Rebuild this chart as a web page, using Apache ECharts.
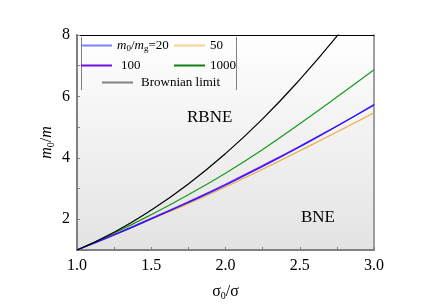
<!DOCTYPE html>
<html><head><meta charset="utf-8">
<script src="https://cdn.jsdelivr.net/npm/echarts@6/dist/echarts.min.js"></script>
<style>html,body{margin:0;padding:0;background:#fff}#c{width:436px;height:306px}</style>
</head><body><div id="c"></div>
<script>
const sigma = [1.0, 1.25, 1.5, 1.75, 2.0, 2.25, 2.5, 2.75, 3.0];
const mg20   = [1.0, 1.49, 2.01, 2.55, 3.11, 3.72, 4.36, 5.03, 5.74];
const mg50   = [1.0, 1.48, 2.00, 2.51, 3.05, 3.63, 4.23, 4.84, 5.47];
const mg100  = [1.0, 1.50, 2.03, 2.57, 3.14, 3.75, 4.38, 5.04, 5.71];
const mg1000 = [1.0, 1.55, 2.15, 2.80, 3.50, 4.27, 5.11, 5.98, 6.87];
const brown  = [1.0, 1.58, 2.30, 3.15, 4.14, 5.27, 6.55, 7.96, 9.50];
const seriesNames = ['m0/mg=20', '50', '100', '1000', 'Brownian limit'];
const xTicks = [1.0, 1.5, 2.0, 2.5, 3.0];
const yTicks = [2, 4, 6, 8];

const FONT = 'Liberation Serif';
const pairs = a => sigma.map((s, i) => [s, a[i]]);
const curveColors = ['#1a1aff', '#f0a840', '#8a10f0', '#1a9a1a', '#000000'];
const legendColors = ['#8080ff', '#f5d595', '#7010e0', '#108010', '#808080'];
const zs = [4, 2, 3, 2, 5];
const data = [mg20, mg50, mg100, mg1000, brown];
const sub = {fontSize: 9, fontFamily: FONT, color: '#000', padding: [7, 0, 0, 0]};
const it = {fontSize: 13, fontFamily: FONT, fontStyle: 'italic', color: '#000'};
const nt = {fontSize: 13, fontFamily: FONT, color: '#000'};

const chart = echarts.init(document.getElementById('c'), null, {renderer: 'canvas'});
function leg(name, left, top, color, pad) {
  return {
    show: true, left: left, top: top, padding: 0, itemGap: 0,
    icon: 'rect', itemWidth: 31, itemHeight: 2,
    data: [{name: name, itemStyle: {color: color}}],
    formatter: n => n === 'm0/mg=20' ? '{i|m}{s|0}{n|/}{i|m}{s|g}{n|=20}' : n,
    textStyle: {fontSize: 13, fontFamily: FONT, color: '#000', padding: pad || 0,
      rich: {i: it, s: sub, n: nt}},
    selectedMode: false
  };
}
const option = {
  animation: false,
  backgroundColor: '#ffffff',
  textStyle: {fontFamily: FONT},
  grid: {left: 77, top: 35, width: 297, height: 219, show: true, borderWidth: 0,
    backgroundColor: new echarts.graphic.LinearGradient(0, 0, 0, 1, [
      {offset: 0, color: '#ffffff'}, {offset: 1, color: '#e3e3e3'}])},
  legend: [
    leg(seriesNames[0], 81, 39, legendColors[0]),
    leg(seriesNames[1], 174, 39, legendColors[1]),
    leg(seriesNames[2], 81, 59, legendColors[2], [0, 0, 0, 4]),
    leg(seriesNames[3], 174, 59, legendColors[3]),
    leg(seriesNames[4], 102, 76, legendColors[4], [0, 0, 0, 3])
  ],
  xAxis: [{
    type: 'value', min: 1, max: 3, interval: 0.25, position: 'bottom',
    name: '{a|σ}{s|0}{a|/σ}', nameLocation: 'middle', nameGap: 32, nameMoveOverlap: false,
    nameTextStyle: {rich: {a: {fontSize: 16, fontFamily: FONT, color: '#000'},
      s: {fontSize: 10, fontFamily: FONT, color: '#000', padding: [9, 0, 0, 0]}}},
    axisLine: {show: true, onZero: false, lineStyle: {color: '#808080', width: 2}},
    axisTick: {show: true, inside: true, length: 3, lineStyle: {color: '#808080', width: 1}},
    axisLabel: {margin: 8, fontSize: 16, fontFamily: FONT, color: '#000',
      formatter: v => xTicks.some(t => Math.abs(t - v) < 1e-6) ? v.toFixed(1) : ''},
    splitLine: {show: false}
  }, {
    type: 'value', min: 1, max: 3, position: 'top',
    axisLine: {show: true, onZero: false, lineStyle: {color: '#000', width: 1}},
    axisTick: {show: false}, axisLabel: {show: false}, splitLine: {show: false}
  }],
  yAxis: [{
    type: 'value', min: 1, max: 8, interval: 1, position: 'left',
    name: '{i|m}{s|0}{n|/}{i|m}', nameLocation: 'middle', nameGap: 21, nameRotate: 90, nameMoveOverlap: false,
    nameTextStyle: {rich: {i: {fontSize: 16, fontFamily: FONT, fontStyle: 'italic', color: '#000'},
      n: {fontSize: 16, fontFamily: FONT, color: '#000'},
      s: {fontSize: 10, fontFamily: FONT, color: '#000', padding: [9, 0, 0, 0]}}},
    axisLine: {show: true, onZero: false, lineStyle: {color: '#808080', width: 2}},
    axisTick: {show: true, inside: true, length: 3, lineStyle: {color: '#808080', width: 1}},
    axisLabel: {margin: 7, fontSize: 16, fontFamily: FONT, color: '#000',
      formatter: v => yTicks.indexOf(v) >= 0 ? String(v) : ''},
    splitLine: {show: false}
  }, {
    type: 'value', min: 1, max: 8, position: 'right',
    axisLine: {show: true, onZero: false, lineStyle: {color: '#808080', width: 1.5}},
    axisTick: {show: false}, axisLabel: {show: false}, splitLine: {show: false}
  }],
  series: seriesNames.map((n, k) => ({
    name: n, type: 'line', data: pairs(data[k]), smooth: true, showSymbol: false,
    symbol: 'none', clip: true, z: zs[k],
    lineStyle: {color: curveColors[k], width: 1.2}, itemStyle: {color: curveColors[k]}
  })),
  graphic: [
    {type: 'line', silent: true, shape: {x1: 81.5, y1: 37, x2: 81.5, y2: 90}, style: {stroke: '#808080', lineWidth: 1}},
    {type: 'line', silent: true, shape: {x1: 236.5, y1: 37, x2: 236.5, y2: 90}, style: {stroke: '#808080', lineWidth: 1}},
    {type: 'text', left: 187, top: 109, style: {text: 'RBNE', font: '17px ' + FONT, fill: '#000'}},
    {type: 'text', left: 301, top: 209, style: {text: 'BNE', font: '17px ' + FONT, fill: '#000'}}
  ]
};
chart.setOption(option);
</script></body></html>
